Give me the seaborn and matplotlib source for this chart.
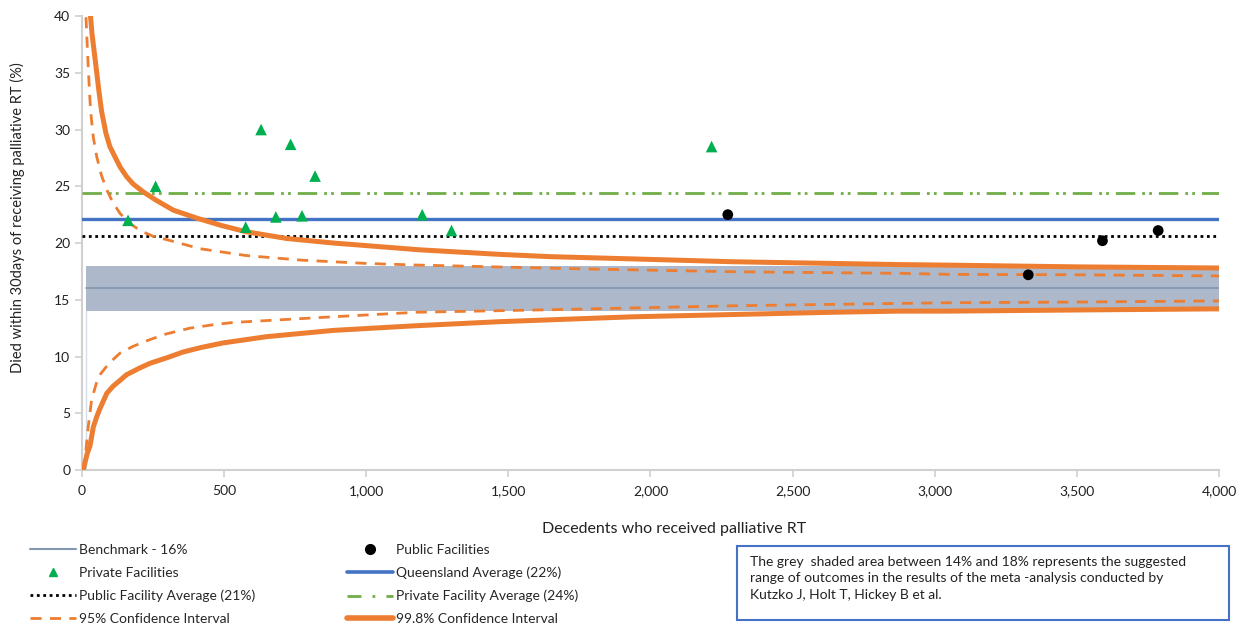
import numpy as np
import pandas as pd
import matplotlib
matplotlib.use("Agg")
import matplotlib.pyplot as plt
import seaborn as sns
from matplotlib.lines import Line2D
from matplotlib.ticker import FuncFormatter, MultipleLocator

# facilities (decedents, % died within 30 days)
private_x = [162, 259, 576, 630, 682, 734, 774, 820, 1197, 1300, 2215]
private_y = [22.0, 25.0, 21.4, 30.0, 22.3, 28.7, 22.4, 25.9, 22.5, 21.1, 28.5]
public_x = [2272, 3329, 3590, 3786]
public_y = [22.5, 17.2, 20.2, 21.1]

# averages / benchmark
benchmark = 16.0
band_low, band_high = 14.0, 18.0
qld_avg = 22.1
public_avg = 20.6
private_avg = 24.4

# funnel limits
upper998_x = [30, 35, 52, 59, 69, 84, 98, 116, 134, 157, 180, 216, 259, 321, 403, 490, 576,
              720, 884, 1189, 1470, 1646, 1938, 2290, 2642, 2877, 3053, 3500, 4000]
upper998_y = [40.0, 38.5, 35.0, 33.5, 31.6, 29.7, 28.5, 27.6, 26.7, 25.85, 25.2, 24.5, 23.8,
              22.9, 22.2, 21.55, 21.0, 20.4, 20.0, 19.4, 19.0, 18.8, 18.6, 18.35, 18.2, 18.1,
              18.05, 17.9, 17.8]
lower998_x = [4, 19, 28, 40, 52, 63, 87, 110, 134, 157, 200, 239, 300, 356, 420, 497, 650,
              884, 1165, 1470, 1938, 2290, 2642, 2877, 3053, 3500, 4000]
lower998_y = [0.0, 1.5, 2.1, 3.8, 4.7, 5.4, 6.75, 7.4, 7.9, 8.4, 8.95, 9.4, 9.9, 10.4, 10.8,
              11.2, 11.75, 12.3, 12.7, 13.07, 13.5, 13.7, 13.9, 14.0, 14.0, 14.1, 14.2]
upper95_x = [14, 22, 30, 40, 52, 68, 87, 108, 134, 165, 204, 250, 298, 415, 576, 767, 1001,
             1177, 1705, 2290, 2877, 3053, 3500, 4000]
upper95_y = [39.9, 35.5, 31.7, 29.3, 27.6, 26.0, 24.7, 23.6, 22.6, 21.8, 21.1, 20.6, 20.3,
             19.5, 18.9, 18.5, 18.2, 18.06, 17.75, 17.47, 17.33, 17.24, 17.2, 17.1]
lower95_x = [8, 14, 22, 34, 57, 95, 134, 180, 240, 298, 380, 462, 532, 884, 1177, 1705,
             2290, 2877, 3053, 3500, 4000]
lower95_y = [0.0, 1.8, 3.8, 6.2, 8.2, 9.4, 10.3, 10.9, 11.5, 12.0, 12.5, 12.8, 13.0, 13.5,
             13.9, 14.15, 14.47, 14.68, 14.74, 14.8, 14.9]

x_start, x_end = 14, 4000

ORANGE = "#ed7d31"
GREEN_PT = "#00b050"
GREEN_LN = "#70ad47"
BLUE = "#4472c4"
BAND = "#adb9ca"
BENCH = "#8497b0"

sns.set_style("white")
plt.rcParams["font.family"] = ["Lato", "DejaVu Sans"]

fig = plt.figure(figsize=(12.44, 6.27), dpi=100)
ax = fig.add_axes([0.0659, 0.2504, 0.914, 0.724])

# grey range band + benchmark
ax.fill_between([x_start, x_end], band_low, band_high, color=BAND, lw=0, zorder=1)
ax.plot([x_start, x_start], [0, band_low], color="#d6dde9", lw=1.0, zorder=2)
ax.plot([x_start, x_end], [benchmark, benchmark], color=BENCH, lw=1.2, zorder=2)

# averages
ax.axhline(private_avg, color=GREEN_LN, lw=2, dashes=(7, 2.5, 1, 1.5, 1, 2.5), zorder=3)
ax.axhline(qld_avg, color=BLUE, lw=2.4, zorder=3)
ax.axhline(public_avg, color="black", lw=2, ls=(0, (1, 1.3)), zorder=3)

# funnel limits
ci = pd.concat([
    pd.DataFrame({"n": upper998_x, "pct": upper998_y, "lim": "u998"}),
    pd.DataFrame({"n": lower998_x, "pct": lower998_y, "lim": "l998"}),
    pd.DataFrame({"n": upper95_x, "pct": upper95_y, "lim": "u95"}),
    pd.DataFrame({"n": lower95_x, "pct": lower95_y, "lim": "l95"}),
])
for lim, g in ci.groupby("lim"):
    if lim.endswith("998"):
        sns.lineplot(data=g, x="n", y="pct", ax=ax, color=ORANGE, lw=3.6, sort=False,
                     estimator=None, zorder=4, solid_joinstyle="round")
    else:
        sns.lineplot(data=g, x="n", y="pct", ax=ax, color=ORANGE, lw=2, sort=False,
                     estimator=None, zorder=4, dashes=False, ls=(0, (4, 3)))

# facilities
sns.scatterplot(x=private_x, y=private_y, ax=ax, marker="^", color=GREEN_PT, s=70,
                edgecolor="none", zorder=6)
sns.scatterplot(x=public_x, y=public_y, ax=ax, marker="o", color="black", s=60,
                edgecolor="none", zorder=6)

ax.set_xlim(0, 4000)
ax.set_ylim(0, 40)
ax.xaxis.set_major_locator(MultipleLocator(500))
ax.yaxis.set_major_locator(MultipleLocator(5))
ax.xaxis.set_major_formatter(FuncFormatter(lambda v, p: f"{int(v):,}"))
for side in ["top", "right"]:
    ax.spines[side].set_visible(False)
for side in ["left", "bottom"]:
    ax.spines[side].set_color("#d0d0d0")
    ax.spines[side].set_linewidth(1.5)
ax.tick_params(axis="both", which="major", length=5, width=1.2, color="#d0d0d0",
               labelsize=10, labelcolor="#222222", direction="out", bottom=True, left=True)
ax.tick_params(axis="x", pad=6)
ax.set_xlabel("Decedents who received palliative RT", fontsize=11.5, color="#222222")
ax.set_ylabel("Died within 30days of receiving palliative RT (%)", fontsize=10.5,
              color="#222222")
ax.xaxis.set_label_coords(0.521, -0.115)
ax.yaxis.set_label_coords(-0.050, 0.555)

legend_kw = dict(loc="center left", bbox_transform=fig.transFigure, frameon=False,
                 fontsize=10, handlelength=3.3, handletextpad=0.25, labelspacing=0.78,
                 borderaxespad=0, borderpad=0)
col1 = [
    (Line2D([], [], color=BENCH, lw=1.5), "Benchmark - 16%"),
    (Line2D([], [], marker="^", color=GREEN_PT, ls="none", ms=6), "Private Facilities"),
    (Line2D([], [], color="black", lw=2, ls=(0, (1, 1.3))), "Public Facility Average (21%)"),
    (Line2D([], [], color=ORANGE, lw=2, ls=(0, (4, 3))), "95% Confidence Interval"),
]
col2 = [
    (Line2D([], [], marker="o", color="black", ls="none", ms=7), "Public Facilities"),
    (Line2D([], [], color=BLUE, lw=2.6), "Queensland Average (22%)"),
    (Line2D([], [], color=GREEN_LN, lw=2, dashes=(5, 4, 1, 4)), "Private Facility Average (24%)"),
    (Line2D([], [], color=ORANGE, lw=4), "99.8% Confidence Interval"),
]
leg_y = 1 - 584.5 / 627
fig.legend([h for h, _ in col1], [t for _, t in col1],
           bbox_to_anchor=(30 / 1244, leg_y), **legend_kw)
fig.legend([h for h, _ in col2], [t for _, t in col2],
           bbox_to_anchor=(347 / 1244, leg_y), **legend_kw)

note = ("The grey  shaded area between 14% and 18% represents the suggested\n"
        "range of outcomes in the results of the meta -analysis conducted by\n"
        "Kutzko J, Holt T, Hickey B et al.")
box = plt.Rectangle((737 / 1244, 1 - 620 / 627), (1229 - 737) / 1244, (620 - 546) / 627,
                    transform=fig.transFigure, fill=False, edgecolor=BLUE, lw=1.5)
fig.add_artist(box)
fig.text(750 / 1244, 1 - 556 / 627, note, fontsize=10, color="#222222", va="top",
         ha="left", linespacing=1.45)

fig.savefig("out.png", dpi=100)
